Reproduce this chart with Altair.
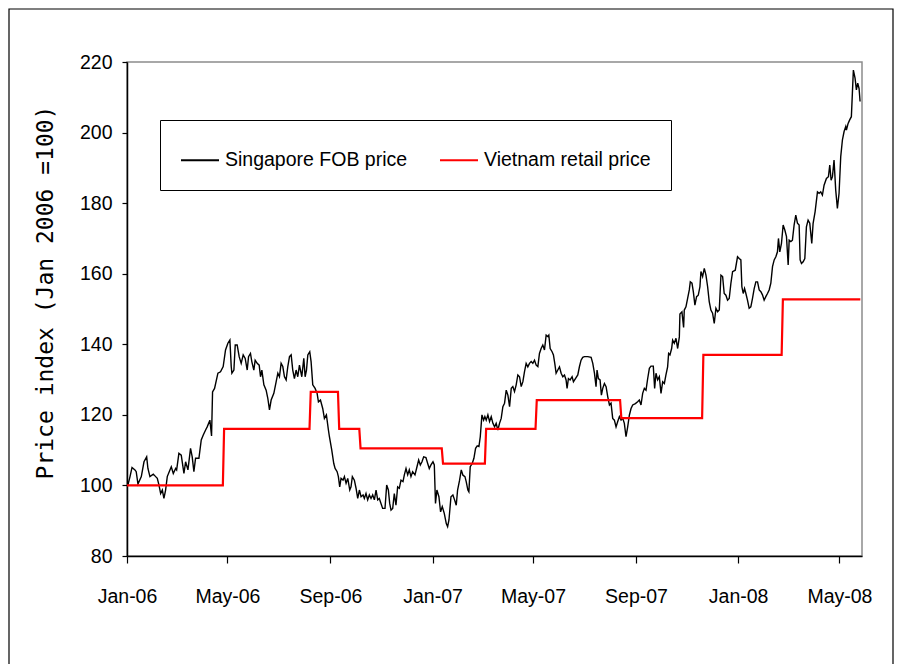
import altair as alt
import pandas as pd

# ---- data (days since 2006-01-01, index values) ----
fob_day = [
    1, 3.6, 6, 9.5, 11, 13.1, 17.1, 20.3, 23.5, 25, 27.4, 31.4, 34.2, 36.2, 38.2, 40.2, 42.2, 44.1, 46.1, 48.1,
    51.3, 52.9, 55.3, 58.1, 59.3, 62, 64.8, 68, 70, 72.8, 75.9, 77.9, 79.9, 81.9, 85.9, 88.7, 91.1, 93.9, 95.8, 99,
    101, 102.2, 104.6, 108.6, 111.7, 114.9, 117.7, 120.5, 122.9, 124.5,
    125.3, 127.7, 129.3, 131.6, 134, 136.4, 138.8, 141.2, 143.6, 145.2, 147.5, 149.1, 151.5, 153.1, 155.5, 157.9,
    159.5, 161.1, 163.5, 166.2, 168.2, 170.2, 172.2, 175.4, 178.2, 180.2, 182.1, 184.1, 186.1, 188.1, 190.1, 192.1,
    194.1, 196.1, 198, 200, 202, 204, 206, 208.8, 211.2, 212.8, 214.4, 216, 218.3, 219.9, 221.9, 224.7, 227.1,
    228.7, 231.1, 233.8, 235.8, 238.2,
    240.6, 241.8, 244.6, 247, 248.6, 251, 252.5, 254.1, 255.7, 258.1, 259.7, 261.7, 263.7, 266.1, 267.6, 269.2,
    271.6, 273.6, 275.6, 277.6, 279.6, 282, 283.5, 285.5, 287.5, 289.5, 291.5, 293.5, 295.5, 297.5, 299.5, 301.4,
    303.4, 305.4, 308.2, 310.2, 312.2, 313.8, 315.4, 317.4, 319.3, 321.3, 323.3, 325.3, 327.3, 329.7, 331.3, 333.3,
    335.3, 337.2, 339.2, 341.2, 344, 346.4, 348.4, 350.4, 352.4, 354.4, 357.1, 359.1, 361.1, 363.1, 365.5, 367.1,
    368.5, 370.2, 372.6, 374.6, 376.6, 379, 381.4, 383, 384.6, 387, 389.3, 391.3, 393.3, 394.9, 397.3, 399.3,
    401.3, 403.7, 405.2, 407.2, 408.4, 410, 412.4, 414.4, 416.4, 418.4, 420.4, 422, 424, 426, 427.5, 429.1, 431.1,
    433.1, 435.1, 437.1, 439.1, 441, 443, 445, 447, 449, 451, 453, 455, 457, 459, 460.9, 462.9, 464.9, 466.9,
    468.9, 470.9, 472.9, 474.8, 476.8, 478.8,
    480.8, 482.8, 484.8, 486.8, 488.8, 490.8, 492.7, 494.7, 496.7, 498.7, 500.7, 502.7, 503.9, 505.5, 507.8,
    509.4, 511, 512.6, 514.6, 516.6, 518.6, 520.6, 522.6, 524.5, 525.7, 527.3, 529.3, 531.7, 533.3, 535.7, 538.5,
    540.5, 542.4, 544.4, 546.4, 550.4, 554.4, 556.4, 558.4, 560.3, 561.5, 563.1, 565.1, 566.7, 568.3, 570.3,
    572.3, 574.3, 576.3, 578.2, 580.2, 582.2, 584.2, 586.2, 588.2, 590.2, 592.2, 594.1, 596.1, 598.1,
    600.1, 602.1, 604.1, 607.3, 610, 612, 614, 616, 618, 620, 622, 624, 625.9, 628.7, 630.3, 631.9, 633.9, 635.9,
    637.9, 639.9, 641.9, 643.8, 645.8, 647, 648.6, 650.6, 651.8, 653.8, 655.8, 657.8, 659.8, 660.5, 662.9, 664.9,
    665.7, 667.7, 669.7, 671.7, 672.9, 674.9, 676.5, 678.4, 680.4, 682.4, 684.4, 685.6, 687.6, 689.6, 691.6,
    693.6, 695.5, 697.5, 699.5, 701.5, 703.5, 705.5, 707.5, 709.5, 711.5, 713.4, 715.4, 717.4, 719.4, 721.4,
    723.4, 726.6, 729.3,
    731.3, 733.3, 734.5, 736.1, 737.7, 739.3, 741.2, 743.2, 745.2, 747.2, 749.2, 751.2, 753.2, 755.2, 757.2,
    759.1, 761.1, 763.1, 765.1, 767.1, 769.1, 771.1, 773.1, 775.1, 777, 778.2, 779.8, 781.8, 783.8, 785.8, 787.8,
    789.8, 791, 793, 794.9, 796.9, 798.9, 800.9, 802.9, 804.1, 805.7, 807.7, 809.7, 811.6, 813.6, 815.6, 818,
    819.6, 822, 824.8, 826.8, 828.7, 830.7, 832.7, 835.5, 837.9, 839.5, 841.1, 842.7, 844.6, 846.6, 848.6,
    850.6, 852.6, 854.6, 856.6, 858.6, 859.4, 861.4, 863.3, 865.3, 866.5, 867.7, 869.7, 871.3, 872.9, 874.5,
    875.7,
]
fob_value = [
    100.0, 102.5, 105.1, 104.4, 103.9, 100.4, 102.5, 106.7, 108.1, 104.8, 102.5, 103.2, 102.5, 102.0, 100.1,
    97.7, 98.7, 96.3, 98.7, 102.5, 104.4, 105.3, 103.4, 104.8, 104.4, 109.1, 108.6, 103.4, 106.7, 104.4, 110.5,
    108.1, 103.9, 107.7, 107.7, 112.9, 114.3, 115.7, 116.6, 118.5, 114.0, 126.5, 127.5, 131.8, 132.2, 133.7,
    138.4, 140.3, 141.2, 133.7,
    131.8, 132.7, 139.8, 139.8, 136.5, 134.6, 137.0, 136.0, 132.7, 136.5, 137.4, 135.1, 132.7, 135.5, 134.6,
    134.1, 130.8, 132.7, 128.5, 127.0, 124.7, 121.4, 124.2, 126.1, 129.4, 131.8, 130.8, 134.6, 133.7, 130.8,
    129.9, 133.7, 136.5, 137.0, 132.7, 130.3, 132.7, 130.8, 134.1, 130.8, 136.0, 130.8, 132.7, 137.0, 137.9,
    135.1, 128.5, 127.5, 126.1, 123.7, 124.2, 121.8, 119.0, 120.0,
    115.7, 113.8, 110.0, 106.2, 104.8, 103.9, 102.5, 99.6, 102.0, 101.5, 102.5, 100.6, 102.0, 98.7, 99.6, 102.5,
    101.5, 99.2, 96.3, 98.7, 96.8, 97.3, 96.3, 97.7, 95.9, 97.3, 96.3, 97.3, 95.9, 98.7, 95.9, 96.3, 94.9, 93.5,
    93.5, 100.1, 98.7, 94.9, 93.0, 93.5, 97.7, 94.4, 99.6, 99.2, 101.5, 101.1, 103.0, 104.8, 103.0, 104.4, 102.5,
    103.9, 103.0, 105.3, 107.2, 105.8, 106.7, 108.1, 107.9, 106.3, 104.8, 105.8, 106.7, 105.8,
    94.9, 98.7, 96.8, 92.5, 94.0, 92.1, 89.2, 88.3, 90.2, 96.8, 97.3, 95.9, 94.4, 98.7, 101.5, 104.4, 102.9,
    102.5, 101.1, 98.7, 98.2, 105.3, 106.2, 107.7, 110.5, 111.2, 111.0, 113.8, 120.0, 118.5, 119.5, 118.5,
    120.0, 118.1, 119.5, 117.6, 116.6, 117.6, 115.7, 117.6, 119.0, 122.3, 123.3, 127.0, 125.6, 122.3, 127.5,
    128.0, 126.6, 128.5, 131.3, 130.8, 128.0, 129.4, 132.2, 134.6, 133.6,
    134.6, 135.1, 134.6, 135.5, 134.1, 133.7, 137.4, 138.8, 139.8, 138.4, 142.6, 142.2, 142.6, 138.8, 137.9,
    137.0, 134.6, 131.8, 132.7, 133.6, 131.8, 130.8, 131.3, 129.9, 127.5, 130.3, 129.9, 130.8, 129.4, 130.3,
    131.3, 133.7, 135.5, 136.3, 136.5, 136.5, 136.3, 134.6, 131.8, 128.0, 132.7, 130.3, 129.9, 125.6, 127.5,
    128.9, 128.0, 125.1, 122.8, 123.3, 119.0, 118.5, 116.6, 118.1, 119.5, 118.5, 119.0, 117.6, 113.8, 116.6,
    119.9, 121.8, 122.8, 123.2, 123.7, 124.2, 122.8, 126.1, 127.5, 127.0, 130.3, 133.2, 133.8, 133.8, 127.5,
    131.8, 129.9, 130.8, 126.1, 129.4, 128.9, 131.3, 133.6, 137.4, 137.0, 138.8, 141.2, 140.3, 141.7, 138.8,
    142.1, 148.6, 149.2, 144.8, 149.7, 150.6, 153.0, 155.4, 157.7, 157.3, 154.9, 151.1, 153.5, 153.9, 156.3,
    160.6, 159.2, 161.5, 159.6, 156.3, 152.1, 149.7, 148.8, 145.9, 150.2, 149.2, 149.7, 159.6, 159.2, 154.4,
    153.9, 152.5, 153.0, 157.3, 160.6, 161.0, 164.8,
    164.3, 163.9, 156.3, 154.4, 155.8, 154.4, 152.5, 150.2, 150.6, 153.0, 155.8, 157.7, 157.7, 155.4, 154.9,
    154.0, 152.5, 153.5, 154.4, 155.4, 157.3, 162.0, 163.9, 164.8, 166.2, 170.0, 166.2, 168.6, 173.8, 172.4,
    170.5, 162.5, 169.5, 169.1, 169.5, 173.8, 176.6, 174.3, 173.8, 163.9, 162.9, 163.4, 164.3, 173.3, 175.2,
    174.3, 168.6, 174.3, 177.6, 183.2, 182.8, 183.2, 182.3, 185.1, 187.0, 187.5, 190.8, 186.5, 187.5, 192.2,
    183.7, 178.5, 182.8, 193.2, 197.9, 200.3, 201.7, 200.7, 202.6, 203.6, 204.5, 211.1, 217.7, 215.4, 212.1,
    214.0, 212.5, 208.8,
]
retail_level = [100.0, 116.0, 126.5, 116.0, 110.5, 106.2, 116.0, 124.2, 119.1, 137.0, 152.7]
retail_change_day = [114.5, 218.0, 252.0, 277.5, 376.0, 427.5, 488.0, 589.0, 687.0, 782.0]
retail_end_day = 876.0

series_names = ["Singapore FOB price", "Vietnam retail price"]
series_colors = ["#000000", "#ff0000"]
y_ticks = [80, 100, 120, 140, 160, 180, 200, 220]
x_tick_months = [(2006, 1), (2006, 5), (2006, 9), (2007, 1), (2007, 5), (2007, 9), (2008, 1), (2008, 5)]

START = pd.Timestamp("2006-01-01")


def to_date(d):
    return START + pd.to_timedelta(d, unit="D")


fob = pd.DataFrame({
    "date": [to_date(d) for d in fob_day],
    "value": fob_value,
    "series": series_names[0],
})

r_days = [0.0]
r_vals = [retail_level[0]]
for i, d in enumerate(retail_change_day):
    r_days += [d, d + 1.5]
    r_vals += [retail_level[i], retail_level[i + 1]]
r_days.append(retail_end_day)
r_vals.append(retail_level[-1])
retail = pd.DataFrame({
    "date": [to_date(d) for d in r_days],
    "value": r_vals,
    "series": series_names[1],
})

FONT = "Liberation Sans, Arial, sans-serif"
FS = 19.5

x_enc = alt.X(
    "date:T",
    scale=alt.Scale(domain=[alt.DateTime(year=2006, month=1, date=1),
                            alt.DateTime(year=2008, month=5, date=28)]),
    axis=alt.Axis(
        values=[alt.DateTime(year=y, month=m, date=1) for y, m in x_tick_months],
        format="%b-%y", title=None, grid=False,
        domainColor="black", domainWidth=1.5, tickColor="black", tickWidth=1.2, tickSize=7,
        labelFont=FONT, labelFontSize=FS, labelColor="black", labelPadding=24,
        labelFlush=False, labelOverlap=False,
    ),
)
y_enc = alt.Y(
    "value:Q",
    scale=alt.Scale(domain=[80, 220], nice=False, zero=False),
    axis=alt.Axis(
        values=y_ticks, title="Price index (Jan 2006 =100)", grid=False,
        domainColor="black", domainWidth=1.5, tickColor="black", tickWidth=1.2, tickSize=5,
        labelFont=FONT, labelFontSize=FS, labelColor="black", labelPadding=10,
        titleFont="DejaVu Sans Mono", titleFontSize=23, titleFontWeight="normal", titleColor="black",
        titleX=-82, titleY=230, titleAngle=270, titleAlign="center", titleBaseline="middle",
    ),
)
color_enc = alt.Color(
    "series:N",
    scale=alt.Scale(domain=series_names, range=series_colors),
    legend=alt.Legend(
        title=None, orient="none", legendX=33, legendY=58, direction="horizontal", columns=2,
        symbolType="stroke", symbolSize=1444, symbolStrokeWidth=2,
        labelFont=FONT, labelFontSize=FS, labelColor="black", labelOffset=5, labelLimit=400,
        columnPadding=28, padding=20, strokeColor="black", fillColor="white",
    ),
)

fob_line = alt.Chart(fob).mark_line(strokeWidth=1.4).encode(x=x_enc, y=y_enc, color=color_enc)
retail_line = alt.Chart(retail).mark_line(strokeWidth=2.2).encode(x=x_enc, y=y_enc, color=color_enc)

frame = alt.Chart(pd.DataFrame({"k": [0]})).mark_rect(
    filled=False, stroke="black", strokeWidth=1.2
).encode(x=alt.value(-118), x2=alt.value(766), y=alt.value(-53), y2=alt.value(640))

chart = alt.layer(fob_line, retail_line, frame).properties(
    width=735, height=494,
    autosize=alt.AutoSizeParams(type="none"),
    padding={"left": 119, "top": 54, "right": 32, "bottom": 108},
    background="white",
).configure_view(stroke="#8c8c8c", strokeWidth=1.5)

chart.save("out.html", embed_options={"renderer": "svg", "actions": False})
